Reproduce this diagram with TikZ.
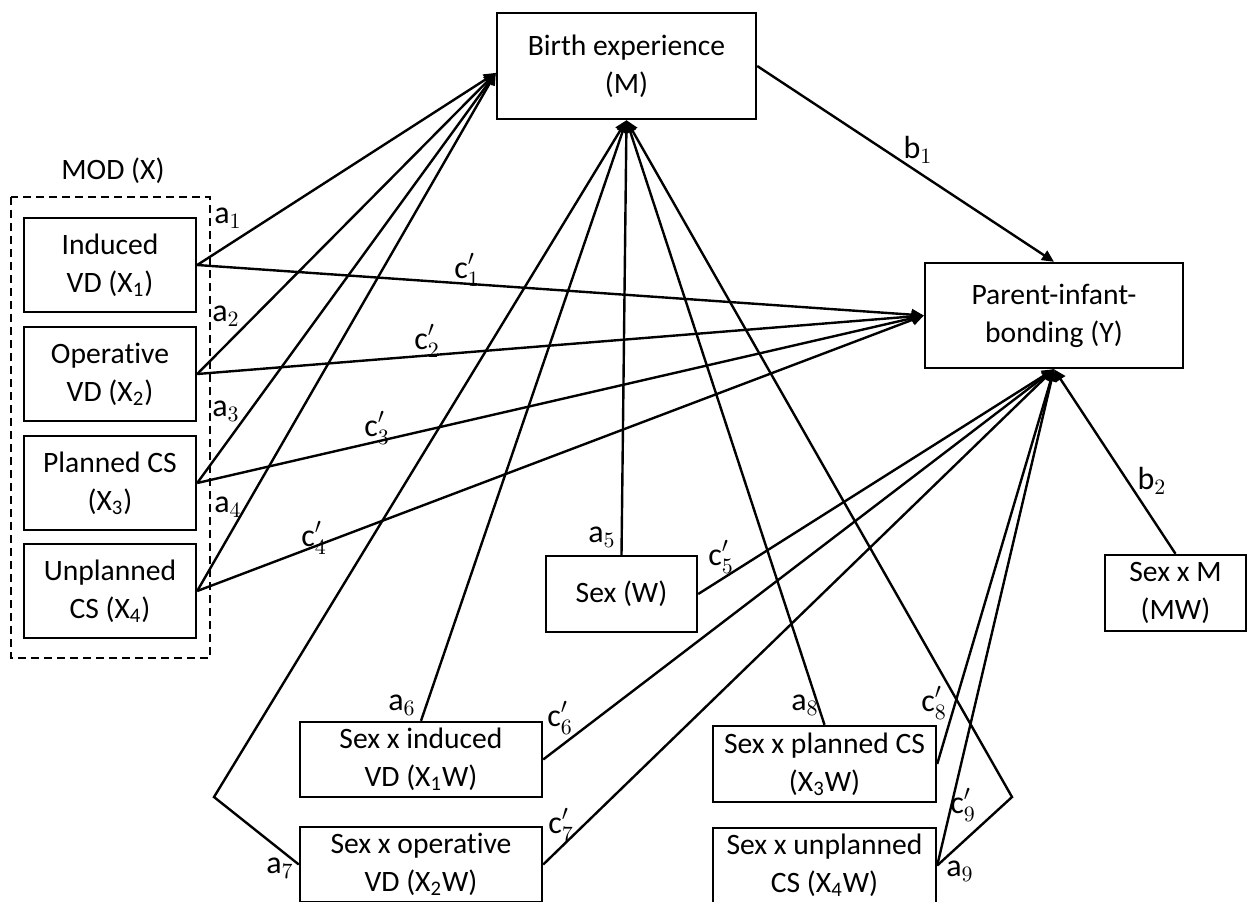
\documentclass[tikz,border=0pt]{standalone}
\usepackage{fontspec}
\setmainfont{Carlito}[Ligatures=NoCommon]
\usetikzlibrary{arrows.meta}

\begin{document}
\begin{tikzpicture}[x=0.5pt, y=-0.5pt, line width=1.2pt, >={Triangle[length=6pt,width=5.5pt]},
  box/.style={draw, rectangle, align=center, inner sep=0pt, font=\fontsize{14.8}{19}\selectfont},
  xbox/.style={box, minimum width=86pt, minimum height=47pt},
  lab/.style={inner sep=0pt, font=\fontsize{16}{18}\selectfont}]
  \useasboundingbox (0,0) rectangle (1247,901);

  % boxes
  \node[box, minimum width=129.5pt, minimum height=53pt] (birth) at (626.5,66) {Birth experience\\(M)};
  \node[box, minimum width=129pt, minimum height=52.5pt] (bond) at (1054,315.5) {Parent-infant-\\bonding (Y)};
  \node[font=\fontsize{14.8}{19}\selectfont] (modx) at (113,171) {MOD (X)};
  \draw[dash pattern=on 4pt off 2.5pt] (11,197) rectangle (210,658);
  \node[xbox] (induced) at (110,265) {Induced\\VD (X\textsubscript{1})};
  \node[xbox] (operative) at (110,374) {Operative\\VD (X\textsubscript{2})};
  \node[xbox] (planned) at (110,483) {Planned CS\\(X\textsubscript{3})};
  \node[xbox] (unplanned) at (110,591) {Unplanned\\CS (X\textsubscript{4})};
  \node[box, minimum width=75.5pt, minimum height=38pt] (sexw) at (621.5,594) {Sex (W)};
  \node[box, minimum width=121pt, minimum height=37.5pt] (sxind) at (421,759.5) {Sex x induced\\VD (X\textsubscript{1}W)};
  \node[box, minimum width=121pt, minimum height=37.5pt] (sxop) at (421,864.5) {Sex x operative\\VD (X\textsubscript{2}W)};
  \node[box, minimum width=111.5pt, minimum height=38pt] (sxpl) at (824.5,764) {Sex x planned CS\\(X\textsubscript{3}W)};
  \node[box, minimum width=111.5pt, minimum height=37.5pt] (sxun) at (824.5,865.5) {Sex x unplanned\\CS (X\textsubscript{4}W)};
  \node[box, minimum width=70.5pt, minimum height=38pt] (sxm) at (1175.5,593) {Sex x M\\(MW)};

  % bends
  \coordinate (k7) at (214,797);
  \coordinate (k9) at (1012,797);

  % paths to M
  \draw[->] (induced.east) -- (birth.183);
  \draw[->] (operative.east) -- (birth.183);
  \draw[->] (planned.east) -- (birth.183);
  \draw[->] (unplanned.east) -- (birth.183);
  \draw[->] (sexw.north) -- (birth.south);
  \draw[->] (sxind.north) -- (birth.south);
  \draw[->] (sxop.west) -- (k7) -- (birth.south);
  \draw[->] (sxpl.north) -- (birth.south);
  \draw[->] (sxun.east) -- (k9) -- (birth.south);

  % paths to Y
  \draw[->] (birth.east) -- (bond.north);
  \draw[->] (induced.east) -- (bond.west);
  \draw[->] (operative.east) -- (bond.west);
  \draw[->] (planned.east) -- (bond.west);
  \draw[->] (unplanned.east) -- (bond.west);
  \draw[->] (sexw.east) -- (bond.south);
  \draw[->] (sxind.east) -- (bond.south);
  \draw[->] (sxop.east) -- (bond.south);
  \draw[->] (sxpl.east) -- (bond.south);
  \draw[->] (sxun.east) -- (bond.south);
  \draw[->] (sxm.north) -- (bond.south);

  % path labels
  \node[lab] (la1) at (228,218) {$\mathrm{a}_1$};
  \node[lab] (la2) at (226,316) {$\mathrm{a}_2$};
  \node[lab] (la3) at (226,411) {$\mathrm{a}_3$};
  \node[lab] (la4) at (228,507) {$\mathrm{a}_4$};
  \node[lab] (la5) at (602,537) {$\mathrm{a}_5$};
  \node[lab] (la6) at (402,705) {$\mathrm{a}_6$};
  \node[lab] (la7) at (280,868) {$\mathrm{a}_7$};
  \node[lab] (la8) at (805,705) {$\mathrm{a}_8$};
  \node[lab] (la9) at (960,871) {$\mathrm{a}_9$};
  \node[lab] (lb1) at (918,150) {$\mathrm{b}_1$};
  \node[lab] (lb2) at (1152,481) {$\mathrm{b}_2$};
  \node[lab] (lc1) at (467,270) {$\mathrm{c}'_1$};
  \node[lab] (lc2) at (427,341) {$\mathrm{c}'_2$};
  \node[lab] (lc3) at (377,428) {$\mathrm{c}'_3$};
  \node[lab] (lc4) at (314,538) {$\mathrm{c}'_4$};
  \node[lab] (lc5) at (721,557) {$\mathrm{c}'_5$};
  \node[lab] (lc6) at (560,718) {$\mathrm{c}'_6$};
  \node[lab] (lc7) at (561,825) {$\mathrm{c}'_7$};
  \node[lab] (lc8) at (934,703) {$\mathrm{c}'_8$};
  \node[lab] (lc9) at (963,805) {$\mathrm{c}'_9$};
\end{tikzpicture}
\end{document}
